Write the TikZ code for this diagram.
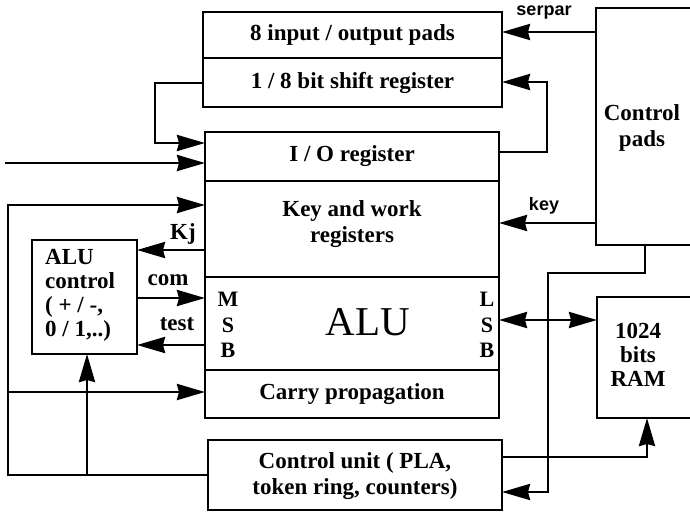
\documentclass[tikz,border=0pt]{standalone}
\usepackage{fontspec}
\setmainfont{Liberation Serif}
\setsansfont{Liberation Sans}
\usetikzlibrary{arrows.meta}
\tikzset{
  box/.style={draw, line width=2.8pt, inner sep=0pt, outer sep=0pt, anchor=north west},
  conn/.style={line width=2.8pt},
  tipshape/.tip={Stealth[length=28pt,width=16pt,inset=2pt]},
  arr/.style={conn, -tipshape},
  darr/.style={conn, tipshape-tipshape},
  txt/.style={font=\bfseries\fontsize{23}{26}\selectfont, inner sep=0pt, align=center},
  lbl/.style={font=\bfseries\fontsize{23}{26}\selectfont, inner sep=0pt},
  sans/.style={font=\sffamily\bfseries\fontsize{18}{20}\selectfont, inner sep=0pt}
}
\begin{document}
\begin{tikzpicture}[x=1pt,y=-1pt]
\useasboundingbox (0,0) rectangle (690,512);
\begin{scope}
\clip (0,0) rectangle (690,512);
% top box
\node[box, minimum width=299pt, minimum height=46pt] (pads8) at (203,12) {};
\node[box, minimum width=299pt, minimum height=49pt] (shift) at (203,58) {};
\node[txt] at (pads8.center) {8 input / output pads};
\node[txt] at (shift.center) {1 / 8 bit shift register};
% main box
\node[box, minimum width=294pt, minimum height=49pt] (io) at (205,132) {};
\node[box, minimum width=294pt, minimum height=96pt] (key) at (205,181) {};
\node[box, minimum width=294pt, minimum height=93pt] (alu) at (205,277) {};
\node[box, minimum width=294pt, minimum height=48pt] (carry) at (205,370) {};
\node[txt] at (io.center) {I / O register};
\node[txt] at (352,224) {Key and work\\registers};
\node[inner sep=0pt, font=\fontsize{41}{44}\selectfont] at (368,322) {ALU};
\node[txt, font=\bfseries\fontsize{22}{25.5}\selectfont] (msb) at (228,325) {M\\S\\B};
\node[txt, font=\bfseries\fontsize{22}{25.5}\selectfont] (lsb) at (487,325) {L\\S\\B};
\node[txt] at (carry.center) {Carry propagation};
% control unit
\node[box, minimum width=294pt, minimum height=70pt] (cu) at (208,440) {};
\node[txt] at (355,476) {Control unit ( PLA,\\token ring, counters)};
% control pads
\node[box, minimum width=100pt, minimum height=237pt] (cp) at (596,8) {};
\node[txt] at (642,128) {Control\\pads};
% RAM
\node[box, minimum width=100pt, minimum height=121pt] (ram) at (597,297) {};
\node[txt, font=\bfseries\fontsize{23}{24}\selectfont] at (638,355) {1024\\bits\\RAM};
% ALU control
\node[box, minimum width=105pt, minimum height=114pt] (aluc) at (32,240) {};
\node[txt, align=left, anchor=west, font=\bfseries\fontsize{23}{24}\selectfont] at (45,295) {ALU\\control\\( + / -,\\0 / 1,..)};
\end{scope}
% connectors
\draw[arr] (cp.west |- 0,32) -- (pads8.east |- 0,32);
\node[sans] at (544,13) {serpar};
\draw[arr] (io.east |- 0,152) -- (547,152) -- (547,82) -- (shift.east |- 0,82);
\draw[arr] (shift.west |- 0,83) -- (155,83) -- (155,143) -- (io.west |- 0,143);
\coordinate (in) at (5,163);
\draw[arr] (in) -- (io.west |- 0,163);
\draw[arr] (cu.west |- 0,475) -- (8,475) -- (8,205) -- (key.west |- 0,205);
\draw[arr] (87,475) -- (87,0 |- aluc.south);
\draw[arr] (8,392) -- (carry.west |- 0,392);
\draw[arr] (key.west |- 0,250) -- (aluc.east |- 0,250);
\node[lbl] at (183,234) {Kj};
\draw[arr] (aluc.east |- 0,298) -- (alu.west |- 0,298);
\node[lbl] at (168,280) {com};
\draw[arr] (alu.west |- 0,345) -- (aluc.east |- 0,345);
\node[lbl] at (177,324) {test};
\draw[arr] (cp.west |- 0,223) -- (key.east |- 0,223);
\node[sans] at (544,206) {key};
\draw[arr] (645,0 |- cp.south) -- (645,273) -- (548,273) -- (548,492) -- (cu.east |- 0,492);
\draw[darr] (alu.east |- 0,320) -- (ram.west |- 0,320);
\draw[arr] (cu.east |- 0,457) -- (647,457) -- (647,0 |- ram.south);
\end{tikzpicture}
\end{document}
